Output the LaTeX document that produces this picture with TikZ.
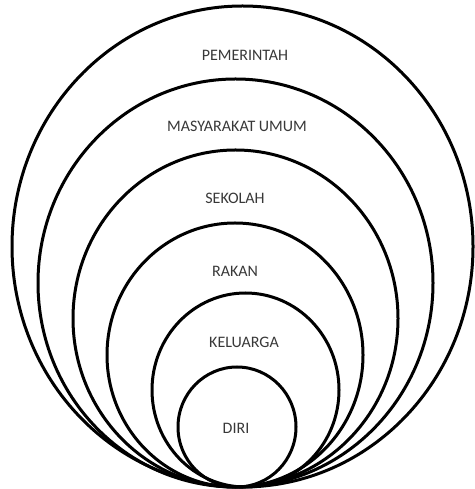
\documentclass[tikz,border=0pt]{standalone}
\usepackage{fontspec}
\setmainfont{Carlito}
\definecolor{txtgray}{HTML}{383838}
\begin{document}
\begin{tikzpicture}[x=1pt,y=1pt,
  ring/.style={draw=black,line width=3pt},
  lbl/.style={text=txtgray,font=\fontsize{16}{18}\selectfont,inner sep=0pt,anchor=center}]
\useasboundingbox (0,0) rectangle (474,489);
% rings (centre x, 489 - centre y; radii)
\draw[ring] (242.5,242.5) ellipse [x radius=230.5, y radius=240.5];
\draw[ring] (235.5,206) ellipse [x radius=197.5, y radius=204];
\draw[ring] (235.5,170.5) ellipse [x radius=162.5, y radius=168.5];
\draw[ring] (235,134) ellipse [x radius=128, y radius=132];
\draw[ring] (245.5,99) ellipse [x radius=93.5, y radius=97];
\draw[ring] (237,62) ellipse [x radius=59, y radius=60];
% labels
\node[lbl] (pem) at (245,434) {PEMERINTAH};
\node[lbl] (mas) at (237,363) {MASYARAKAT UMUM};
\node[lbl] (sek) at (235,291) {SEKOLAH};
\node[lbl] (rak) at (235,218) {RAKAN};
\node[lbl] (kel) at (244,147) {KELUARGA};
\node[lbl] (dir) at (236,61) {DIRI};
\end{tikzpicture}
\end{document}
